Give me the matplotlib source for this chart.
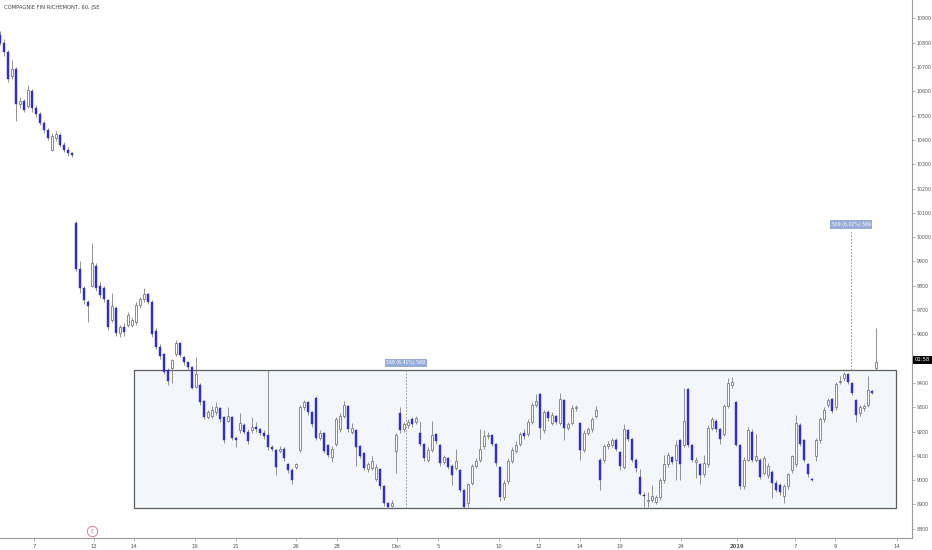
import matplotlib
matplotlib.use("Agg")
import matplotlib.pyplot as plt
import matplotlib.patches as patches
import matplotlib.transforms as mtransforms

title = "COMPAGNIE FIN RICHEMONT, 60, JSE"

opens = [
    10830, 10800, 10760, 10665, 10690, 10550, 10560, 10540, 10600, 10530,
    10505, 10470, 10440, 10360, 10410, 10420, 10380, 10360, 10345, 10060,
    9870, 9790, 9735, 9800, 9880, 9800, 9790, 9740, 9660, 9710,
    9605, 9630, 9640, 9640, 9650, 9720, 9745, 9765, 9735, 9615,
    9550, 9520, 9455, 9460, 9520, 9565, 9505, 9485, 9465, 9385,
    9390, 9325, 9260, 9265, 9280, 9295, 9260, 9245, 9260, 9175,
    9205, 9225, 9200, 9205, 9220, 9210, 9195, 9185, 9135, 9125,
    9120, 9130, 9065, 9040, 9055, 9125, 9300, 9320, 9280, 9340,
    9175, 9195, 9145, 9095, 9150, 9210, 9265, 9305, 9200, 9205,
    9140, 9110, 9045, 9050, 9005, 9045, 8975, 8905, 8895, 9120,
    9275, 9210, 9225, 9250, 9240, 9195, 9150, 9085, 9125, 9190,
    9145, 9075, 9090, 9060, 9050, 9040, 8960, 8905, 8990, 9060,
    9085, 9140, 9180, 9185, 9150, 9055, 8930, 8995, 9080, 9120,
    9150, 9195, 9190, 9240, 9310, 9355, 9205, 9280, 9235, 9265,
    9235, 9330, 9215, 9235, 9295, 9235, 9125, 9195, 9210, 9265,
    9085, 9085, 9140, 9145, 9165, 9115, 9055, 9205, 9170, 9085,
    9015, 8940, 8915, 8920, 8910, 8930, 9000, 9065, 9095, 9085,
    9165, 9145, 9375, 9145, 9075, 9065, 9025, 9065, 9215, 9245,
    9210, 9190, 9305, 9390, 9320, 9145, 8975, 9085, 9200, 9085,
    9085, 9030, 9020, 9035, 8990, 8980, 8935, 8975, 9040, 9065,
    9225, 9165, 9065, 9005, 9100, 9165, 9250, 9310, 9335, 9300,
    9405, 9420, 9435, 9400, 9330, 9275, 9295, 9310, 9365, 9460,
]
highs = [
    10850, 10815, 10770, 10730, 10700, 10575, 10570, 10625, 10610, 10545,
    10515, 10480, 10450, 10430, 10435, 10430, 10390, 10370, 10350, 10065,
    9900, 9800, 9740, 9975, 9895, 9815, 9800, 9745, 9770, 9715,
    9640, 9645, 9690, 9670, 9735, 9755, 9790, 9770, 9740, 9625,
    9560, 9525, 9460, 9500, 9575, 9570, 9510, 9490, 9470, 9505,
    9400, 9330, 9290, 9305, 9320, 9300, 9265, 9300, 9265, 9180,
    9275, 9235, 9210, 9260, 9240, 9215, 9205, 9455, 9145, 9130,
    9140, 9135, 9070, 9050, 9070, 9310, 9330, 9325, 9285, 9345,
    9205, 9200, 9150, 9140, 9260, 9275, 9325, 9310, 9235, 9210,
    9145, 9115, 9075, 9100, 9065, 9050, 8980, 8910, 8920, 9195,
    9300, 9240, 9250, 9260, 9265, 9245, 9155, 9135, 9245, 9195,
    9150, 9105, 9095, 9065, 9130, 9045, 8965, 8990, 9065, 9090,
    9210, 9205, 9200, 9190, 9155, 9060, 9000, 9090, 9135, 9160,
    9200, 9210, 9250, 9320, 9355, 9360, 9290, 9290, 9280, 9270,
    9360, 9335, 9240, 9310, 9310, 9240, 9205, 9220, 9260, 9305,
    9090, 9150, 9160, 9175, 9175, 9120, 9230, 9210, 9175, 9090,
    9045, 8950, 8950, 8980, 8940, 9010, 9105, 9115, 9100, 9165,
    9170, 9380, 9380, 9150, 9095, 9070, 9105, 9225, 9260, 9250,
    9215, 9315, 9420, 9425, 9325, 9150, 9095, 9220, 9210, 9190,
    9090, 9100, 9070, 9040, 9000, 8990, 8985, 9030, 9105, 9270,
    9235, 9170, 9070, 9010, 9175, 9260, 9300, 9340, 9340, 9405,
    9430, 9445, 9440, 9405, 9335, 9310, 9315, 9430, 9370, 9625,
]
lows = [
    10790, 10745, 10640, 10650, 10480, 10530, 10515, 10530, 10515, 10495,
    10460, 10430, 10400, 10355, 10395, 10370, 10350, 10335, 10330, 9860,
    9770, 9725, 9650, 9795, 9780, 9750, 9735, 9620, 9650, 9595,
    9590, 9595, 9630, 9630, 9640, 9710, 9735, 9725, 9590, 9540,
    9500, 9435, 9390, 9400, 9510, 9505, 9475, 9455, 9375, 9380,
    9310, 9250, 9250, 9255, 9270, 9240, 9155, 9240, 9165, 9135,
    9195, 9190, 9150, 9195, 9200, 9185, 9170, 9125, 9120, 9020,
    9110, 9080, 9030, 8985, 9045, 9115, 9290, 9270, 9220, 9165,
    9165, 9110, 9095, 9075, 9140, 9200, 9255, 9200, 9190, 9060,
    9090, 9040, 9035, 9040, 8995, 8965, 8895, 8886, 8890, 9030,
    9195, 9200, 9215, 9220, 9230, 9140, 9080, 9075, 9115, 9150,
    9060, 9065, 9045, 8980, 9040, 8950, 8886, 8890, 8980, 9050,
    9075, 9130, 9170, 9140, 9060, 8915, 8920, 8985, 9070, 9110,
    9140, 9170, 9180, 9230, 9300, 9170, 9195, 9245, 9225, 9230,
    9225, 9165, 9205, 9225, 9285, 9085, 9115, 9185, 9200, 9255,
    8960, 9070, 9130, 9135, 9120, 9040, 9045, 9160, 9075, 9035,
    8940, 8890, 8890, 8910, 8900, 8920, 8990, 9055, 9065, 9000,
    9000, 9135, 9135, 9075, 9010, 8985, 9015, 9055, 9205, 9200,
    9150, 9180, 9295, 9380, 9140, 8965, 8965, 9080, 9075, 9075,
    9005, 9020, 9010, 8925, 8950, 8940, 8905, 8965, 9030, 9055,
    9140, 9075, 9015, 8995, 9080, 9155, 9240, 9300, 9275, 9290,
    9395, 9410, 9395, 9350, 9240, 9265, 9285, 9300, 9355, 9455,
]
closes = [
    10800, 10760, 10650, 10690, 10550, 10560, 10525, 10605, 10530, 10505,
    10470, 10440, 10410, 10415, 10425, 10380, 10360, 10345, 10340, 9870,
    9790, 9740, 9715, 9895, 9790, 9760, 9745, 9630, 9715, 9605,
    9630, 9610, 9680, 9660, 9720, 9745, 9765, 9735, 9600, 9550,
    9510, 9445, 9410, 9495, 9565, 9515, 9485, 9465, 9380, 9435,
    9320, 9260, 9280, 9290, 9300, 9250, 9165, 9265, 9175, 9165,
    9235, 9200, 9160, 9220, 9210, 9195, 9180, 9135, 9130, 9055,
    9130, 9090, 9040, 9000, 9065, 9300, 9320, 9280, 9230, 9175,
    9195, 9120, 9105, 9130, 9250, 9265, 9310, 9210, 9215, 9135,
    9100, 9050, 9065, 9080, 9055, 8975, 8905, 8890, 8905, 9185,
    9205, 9230, 9240, 9230, 9255, 9150, 9090, 9125, 9185, 9160,
    9070, 9095, 9055, 9020, 9080, 8960, 8890, 8985, 9060, 9080,
    9130, 9180, 9185, 9150, 9070, 8930, 8990, 9080, 9125, 9145,
    9190, 9180, 9240, 9310, 9325, 9215, 9280, 9255, 9270, 9240,
    9335, 9215, 9230, 9295, 9300, 9125, 9195, 9210, 9250, 9290,
    9000, 9140, 9150, 9165, 9130, 9060, 9210, 9170, 9085, 9050,
    8945, 8935, 8920, 8935, 8930, 9000, 9065, 9105, 9075, 9145,
    9065, 9245, 9145, 9085, 9085, 9020, 9070, 9215, 9250, 9210,
    9170, 9305, 9400, 9405, 9145, 8975, 9085, 9205, 9085, 9100,
    9015, 9090, 9060, 8990, 8960, 8950, 8975, 9025, 9100, 9235,
    9150, 9085, 9025, 9000, 9165, 9250, 9290, 9330, 9285, 9395,
    9410, 9435, 9405, 9360, 9270, 9300, 9305, 9370, 9360, 9485,
]

# date axis labels and the bar index where each falls
date_labels = ["7", "12", "14", "19", "21", "26", "28", "Dec", "5", "10",
               "12", "14", "19", "24", "2019", "7", "9", "14"]
date_bars = [8.5, 23.5, 33.5, 48.75, 59, 74, 84.25, 99.25, 109.5, 124.75,
             134.75, 145, 155, 170.25, 184.25, 198.75, 208.75, 224.25]

price_ticks = list(range(8800, 11000, 100))
hidden_tick = 9500  # covered by the countdown box in the reference

# range box drawing
range_low = 8886
range_high = 9455
range_size = 569
box_start_bar = 33.5
box_end_bar = 224
measure_bar = 101.5
proj_bar = 212.75
label_inside = "569 (6.41%) 569"
label_proj = "569 (6.02%) 569"
countdown = "01:58"

W, H = 932, 550
fig = plt.figure(figsize=(W / 100, H / 100), dpi=100)
fig.patch.set_facecolor("white")
ax = fig.add_axes([0, 12 / H, 912 / W, 538 / H])
ax.set_facecolor("white")

BLUE = "#2b2bd8"
GREY = "#7a7a7a"

n = len(closes)
for i in range(n):
    o, h, l, c = opens[i], highs[i], lows[i], closes[i]
    ax.vlines(i, l, h, colors="#808080", linewidths=0.6, zorder=3)
    down = c < o
    bottom = min(o, c)
    height = max(abs(c - o), 3)
    if down:
        ax.bar(i, height, bottom=bottom, width=0.5, color=BLUE,
               edgecolor=BLUE, linewidth=0.3, zorder=4)
    else:
        ax.bar(i, height, bottom=bottom, width=0.5, color="white",
               edgecolor=GREY, linewidth=0.6, zorder=4)

# range rectangle
rect = patches.Rectangle((box_start_bar, range_low), box_end_bar - box_start_bar,
                         range_high - range_low, facecolor="#f3f7fc",
                         edgecolor="#5c5c5c", linewidth=0.9, zorder=1)
ax.add_patch(rect)

# measure lines
ax.plot([measure_bar, measure_bar], [range_low, range_high], ls=(0, (2, 2)),
        color="#888888", lw=0.6, zorder=2)
ax.plot([proj_bar, proj_bar], [range_high, range_high + range_size], ls=(0, (2, 2)),
        color="#888888", lw=0.6, zorder=2)

lab_kw = dict(ha="center", va="center", fontsize=3.3, color="white", zorder=6,
              bbox=dict(boxstyle="square,pad=0.35", fc="#97acd8", ec="none"))
ax.text(measure_bar, range_high + 28, label_inside, **lab_kw)
ax.text(proj_bar, range_high + range_size + 28, label_proj, **lab_kw)

ax.set_xlim(0, 228)
ax.set_ylim(8762, 10976)

# axes styling
for s in ("top", "left"):
    ax.spines[s].set_visible(False)
ax.spines["right"].set_color("#9a9a9a")
ax.spines["bottom"].set_color("#9a9a9a")
ax.spines["right"].set_linewidth(0.8)
ax.spines["bottom"].set_linewidth(0.8)

ax.yaxis.tick_right()
ax.set_yticks(price_ticks)
ax.set_yticklabels(["" if p == hidden_tick else str(p) for p in price_ticks])
ax.tick_params(axis="y", length=2, width=0.5, color="#9a9a9a", labelsize=3.4,
               labelcolor="#555555", pad=1.5)

ax.set_xticks(date_bars)
ax.set_xticklabels(date_labels)
for t in ax.get_xticklabels():
    if t.get_text() == "2019":
        t.set_fontweight("bold")
ax.tick_params(axis="x", length=2, width=0.5, color="#9a9a9a", labelsize=3.8,
               labelcolor="#555555", pad=2)

# last price / countdown label on the right axis
trans = mtransforms.blended_transform_factory(ax.transAxes, ax.transData)
ax.text(1.003, closes[-1] + 10, countdown, transform=trans, ha="left", va="center",
        fontsize=3.8, color="white", zorder=7, clip_on=False,
        bbox=dict(boxstyle="square,pad=0.35", fc="black", ec="none"))

# earnings marker
ax.plot([23], [8790], marker="o", ms=7.5, mfc="white", mec="#e27d8c", mew=0.7,
        clip_on=False, zorder=6)
ax.text(23, 8790, "E", ha="center", va="center", fontsize=3.5, color="#e27d8c",
        zorder=7)

fig.text(4 / W, 1 - 8 / H, title, ha="left", va="center", fontsize=3.8,
         color="#444444")

fig.savefig("out.png", dpi=100)
